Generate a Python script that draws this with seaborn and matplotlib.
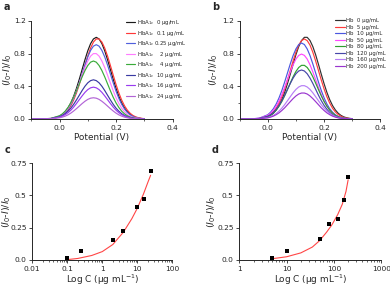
import matplotlib
matplotlib.use("Agg")
import matplotlib.pyplot as plt
import seaborn as sns
import pandas as pd
from matplotlib.ticker import MultipleLocator, FixedLocator, NullFormatter

sns.set_style("ticks")
plt.rcParams['font.family'] = ['DejaVu Sans']
plt.rcParams['mathtext.fontset'] = 'dejavusans'

# ---------------- data ----------------
potential = [-0.10, -0.06, -0.03, 0.00, 0.01, 0.02, 0.03, 0.04, 0.05, 0.06, 0.07, 0.08, 0.09,
             0.10, 0.11, 0.12, 0.13, 0.14, 0.15, 0.16, 0.17, 0.18, 0.19, 0.20, 0.21, 0.22,
             0.23, 0.24, 0.25, 0.26, 0.27, 0.28, 0.29, 0.30]

labels_a = [r"HbA$_{1c}$  0 μg/mL", r"HbA$_{1c}$  0.1 μg/mL", r"HbA$_{1c}$ 0.25 μg/mL",
            r"HbA$_{1c}$    2 μg/mL", r"HbA$_{1c}$    4 μg/mL", r"HbA$_{1c}$  10 μg/mL",
            r"HbA$_{1c}$  16 μg/mL", r"HbA$_{1c}$  24 μg/mL"]
colors_a = ['#1a1a1a', '#ff3838', '#5060dd', '#ff7cff', '#3aab3a', '#3a3aa2', '#9a3cf0', '#b264d6']

a_0 = [0.000, 0.001, 0.006, 0.034, 0.056, 0.089, 0.135, 0.198, 0.278, 0.375, 0.487, 0.607, 0.726, 0.835, 0.923, 0.980, 1.000,
       0.980, 0.923, 0.835, 0.726, 0.607, 0.487, 0.375, 0.278, 0.198, 0.135, 0.089, 0.056, 0.034, 0.020, 0.011, 0.006, 0.003]
a_01 = [0.000, 0.000, 0.004, 0.026, 0.043, 0.070, 0.109, 0.162, 0.232, 0.320, 0.423, 0.538, 0.657, 0.771, 0.869, 0.942, 0.980,
        0.980, 0.942, 0.869, 0.771, 0.657, 0.538, 0.423, 0.320, 0.232, 0.162, 0.109, 0.070, 0.043, 0.026, 0.015, 0.008, 0.004]
a_025 = [0.000, 0.001, 0.005, 0.031, 0.051, 0.081, 0.123, 0.180, 0.253, 0.341, 0.443, 0.552, 0.661, 0.760, 0.840, 0.892, 0.910,
         0.892, 0.840, 0.760, 0.661, 0.552, 0.443, 0.341, 0.253, 0.180, 0.123, 0.081, 0.051, 0.031, 0.018, 0.010, 0.005, 0.003]
a_2 = [0.000, 0.001, 0.007, 0.035, 0.057, 0.089, 0.132, 0.190, 0.261, 0.346, 0.440, 0.537, 0.630, 0.710, 0.770, 0.801, 0.801,
       0.770, 0.710, 0.630, 0.537, 0.440, 0.346, 0.261, 0.190, 0.132, 0.089, 0.057, 0.035, 0.021, 0.012, 0.007, 0.003, 0.002]
a_4 = [0.000, 0.001, 0.008, 0.040, 0.063, 0.096, 0.141, 0.197, 0.266, 0.346, 0.431, 0.516, 0.593, 0.655, 0.696, 0.710,
       0.696, 0.655, 0.593, 0.516, 0.431, 0.346, 0.266, 0.197, 0.141, 0.096, 0.063, 0.040, 0.024, 0.014, 0.008, 0.004, 0.002, 0.001]
a_10 = [0.000, 0.001, 0.005, 0.027, 0.043, 0.065, 0.095, 0.133, 0.180, 0.234, 0.291, 0.349, 0.401, 0.443, 0.470, 0.480,
        0.470, 0.443, 0.401, 0.349, 0.291, 0.234, 0.180, 0.133, 0.095, 0.065, 0.043, 0.027, 0.016, 0.010, 0.005, 0.003, 0.001, 0.001]
a_16 = [0.000, 0.001, 0.004, 0.022, 0.035, 0.053, 0.077, 0.108, 0.146, 0.190, 0.237, 0.283, 0.326, 0.360, 0.382, 0.390,
        0.382, 0.360, 0.326, 0.283, 0.237, 0.190, 0.146, 0.108, 0.077, 0.053, 0.035, 0.022, 0.013, 0.008, 0.004, 0.002, 0.001, 0.001]
a_24 = [0.000, 0.000, 0.003, 0.015, 0.023, 0.035, 0.051, 0.072, 0.098, 0.127, 0.158, 0.189, 0.217, 0.240, 0.255, 0.260,
        0.255, 0.240, 0.217, 0.189, 0.158, 0.127, 0.098, 0.072, 0.051, 0.035, 0.023, 0.015, 0.009, 0.005, 0.003, 0.002, 0.001, 0.000]
series_a = [a_0, a_01, a_025, a_2, a_4, a_10, a_16, a_24]

labels_b = ["Hb  0 μg/mL", "Hb  5 μg/mL", "Hb  10 μg/mL", "Hb  50 μg/mL",
            "Hb  80 μg/mL", "Hb  120 μg/mL", "Hb  160 μg/mL", "Hb  200 μg/mL"]
colors_b = ['#303030', '#ff3b3b', '#4b57e0', '#ff48ff', '#2f9f2f', '#4646a8', '#b67ef6', '#9a35cf']

b_0 = [0.000, 0.001, 0.004, 0.026, 0.044, 0.071, 0.111, 0.165, 0.237, 0.326, 0.432, 0.549, 0.670, 0.787, 0.887, 0.961, 1.000,
       1.000, 0.961, 0.887, 0.787, 0.670, 0.549, 0.432, 0.326, 0.237, 0.165, 0.111, 0.071, 0.044, 0.026, 0.015, 0.008, 0.004]
b_5 = [0.000, 0.001, 0.006, 0.033, 0.055, 0.087, 0.132, 0.194, 0.272, 0.368, 0.477, 0.594, 0.711, 0.818, 0.905, 0.960, 0.980,
       0.960, 0.905, 0.818, 0.711, 0.594, 0.477, 0.368, 0.272, 0.194, 0.132, 0.087, 0.055, 0.033, 0.019, 0.011, 0.006, 0.003]
b_10 = [0.000, 0.001, 0.010, 0.052, 0.083, 0.126, 0.184, 0.259, 0.349, 0.453, 0.564, 0.675, 0.777, 0.858, 0.912, 0.930,
        0.912, 0.858, 0.777, 0.675, 0.564, 0.453, 0.349, 0.259, 0.184, 0.126, 0.083, 0.052, 0.032, 0.018, 0.010, 0.006, 0.003, 0.001]
b_50 = [0.000, 0.001, 0.009, 0.045, 0.071, 0.108, 0.157, 0.221, 0.298, 0.387, 0.482, 0.577, 0.664, 0.734, 0.779, 0.795,
        0.779, 0.734, 0.664, 0.577, 0.482, 0.387, 0.298, 0.221, 0.157, 0.108, 0.071, 0.045, 0.027, 0.016, 0.009, 0.005, 0.002, 0.001]
b_80 = [0.000, 0.001, 0.005, 0.029, 0.047, 0.073, 0.109, 0.156, 0.214, 0.284, 0.360, 0.440, 0.517, 0.582, 0.631, 0.657, 0.657,
        0.631, 0.582, 0.517, 0.440, 0.360, 0.284, 0.214, 0.156, 0.109, 0.073, 0.047, 0.029, 0.017, 0.010, 0.005, 0.003, 0.001]
b_120 = [0.000, 0.001, 0.007, 0.034, 0.053, 0.081, 0.119, 0.167, 0.225, 0.292, 0.364, 0.436, 0.501, 0.554, 0.588, 0.600,
         0.588, 0.554, 0.501, 0.436, 0.364, 0.292, 0.225, 0.167, 0.119, 0.081, 0.053, 0.034, 0.020, 0.012, 0.007, 0.004, 0.002, 0.001]
b_160 = [0.000, 0.000, 0.003, 0.018, 0.029, 0.045, 0.067, 0.097, 0.133, 0.176, 0.224, 0.273, 0.321, 0.362, 0.392, 0.408, 0.408,
         0.392, 0.362, 0.321, 0.273, 0.224, 0.176, 0.133, 0.097, 0.067, 0.045, 0.029, 0.018, 0.011, 0.006, 0.003, 0.002, 0.001]
b_200 = [0.000, 0.000, 0.003, 0.014, 0.023, 0.035, 0.053, 0.075, 0.104, 0.137, 0.175, 0.213, 0.250, 0.282, 0.306, 0.318, 0.318,
         0.306, 0.282, 0.250, 0.213, 0.175, 0.137, 0.104, 0.075, 0.053, 0.035, 0.023, 0.014, 0.008, 0.005, 0.003, 0.001, 0.001]
series_b = [b_0, b_5, b_10, b_50, b_80, b_120, b_160, b_200]

# calibration c (HbA1c)
conc_c = [0.1, 0.25, 2, 4, 10, 16, 24]
resp_c = [0.012, 0.067, 0.157, 0.225, 0.410, 0.475, 0.685]
fit_c_x = [0.1, 0.2, 0.5, 1, 2, 4, 7, 10, 15, 20, 24]
fit_c_y = [0.003, 0.012, 0.035, 0.065, 0.120, 0.215, 0.320, 0.400, 0.510, 0.600, 0.655]
xticks_c = [0.01, 0.1, 1, 10, 100]
xticklabels_c = ["0.01", "0.1", "1", "10", "100"]

# calibration d (Hb)
conc_d = [5, 10, 50, 80, 120, 160, 200]
resp_d = [0.015, 0.066, 0.165, 0.277, 0.318, 0.467, 0.645]
fit_d_x = [5, 10, 20, 35, 50, 70, 90, 120, 150, 180, 200]
fit_d_y = [0.010, 0.025, 0.055, 0.100, 0.150, 0.215, 0.270, 0.350, 0.430, 0.530, 0.620]
xticks_d = [1, 10, 100, 1000]
xticklabels_d = ["1", "10", "100", "1000"]

yticks_cal = [0.0, 0.25, 0.5, 0.75]
yticklabels_cal = ["0.0", "0.25", "0.5", "0.75"]

# ---------------- figure ----------------
W, H = 390, 287
fig = plt.figure(figsize=(W / 100, H / 100), dpi=100)

def px_axes(x0, x1, ytop, ybot):
    return fig.add_axes([x0 / W, 1 - ybot / H, (x1 - x0) / W, (ybot - ytop) / H])

ax_a = px_axes(31.3, 172.5, 21, 119)
ax_b = px_axes(239.6, 380.4, 21, 119)
ax_c = px_axes(32.3, 172.3, 163, 260)
ax_d = px_axes(239.3, 381.2, 163, 260)

tick_fs = 5.4
lab_fs = 6.4
ylab = r"($I_0$-$I$)/$I_0$"

def style(ax):
    sns.despine(ax=ax)
    for s in ('left', 'bottom'):
        ax.spines[s].set_linewidth(0.7)
    ax.tick_params(which='major', direction='out', length=2.5, width=0.6, labelsize=tick_fs, pad=1.5)
    ax.tick_params(which='minor', direction='out', length=1.5, width=0.5)

def place_labels(ax, ylab_center_px, xlab_top_px, left_px, width_px, bottom_px, height_px):
    ax.yaxis.set_label_coords((ylab_center_px - left_px) / width_px, 0.5)
    ax.xaxis.set_label_coords(0.5, (bottom_px - xlab_top_px) / height_px)

def curves(ax, series, labels, colors, legx):
    rows = []
    for lab, ys in zip(labels, series):
        for xv, yv in zip(potential, ys):
            rows.append((xv, yv, lab))
    df = pd.DataFrame(rows, columns=["V", "y", "label"])
    sns.lineplot(data=df, x="V", y="y", hue="label", hue_order=labels,
                 palette=colors, ax=ax, lw=0.85, sort=False)
    ax.set_xlim(-0.1, 0.4)
    ax.set_ylim(0, 1.2)
    ax.xaxis.set_major_locator(FixedLocator([0.0, 0.2, 0.4]))
    ax.xaxis.set_minor_locator(MultipleLocator(0.1))
    ax.yaxis.set_major_locator(FixedLocator([0.0, 0.4, 0.8, 1.2]))
    ax.yaxis.set_minor_locator(MultipleLocator(0.2))
    ax.set_xticklabels(["0.0", "0.2", "0.4"])
    ax.set_yticklabels(["0.0", "0.4", "0.8", "1.2"])
    ax.set_xlabel("Potential (V)", fontsize=lab_fs, va='top')
    ax.set_ylabel(ylab, fontsize=lab_fs + 0.4, va='center')
    style(ax)
    ax.legend(loc='upper left', bbox_to_anchor=(legx, 1.03), frameon=False,
              fontsize=3.9, handlelength=1.7, handletextpad=0.35, labelspacing=0.28,
              borderpad=0, borderaxespad=0)

curves(ax_a, series_a, labels_a, colors_a, 0.67)
curves(ax_b, series_b, labels_b, colors_b, 0.68)
place_labels(ax_a, 8, 133, 31.3, 141.2, 119, 98)
place_labels(ax_b, 213.5, 133, 239.6, 140.8, 119, 98)

def calib(ax, cx, cy, fx, fy, xt, xtl, xlim):
    dfp = pd.DataFrame({"C": cx, "r": cy})
    dff = pd.DataFrame({"C": fx, "r": fy})
    sns.lineplot(data=dff, x="C", y="r", ax=ax, color='#ff4646', lw=0.8, sort=False)
    sns.scatterplot(data=dfp, x="C", y="r", ax=ax, marker='s', color='black', s=9,
                    linewidth=0, zorder=3)
    ax.set_xscale('log')
    ax.set_xlim(*xlim)
    ax.set_ylim(0, 0.75)
    ax.xaxis.set_major_locator(FixedLocator(xt))
    ax.set_xticklabels(xtl)
    ax.xaxis.set_minor_formatter(NullFormatter())
    ax.yaxis.set_major_locator(FixedLocator(yticks_cal))
    ax.set_yticklabels(yticklabels_cal)
    ax.set_xlabel(r"Log C (μg mL$^{-1}$)", fontsize=lab_fs, va='top')
    ax.set_ylabel(ylab, fontsize=lab_fs + 0.4, va='center')
    style(ax)

calib(ax_c, conc_c, resp_c, fit_c_x, fit_c_y, xticks_c, xticklabels_c, (0.01, 100))
calib(ax_d, conc_d, resp_d, fit_d_x, fit_d_y, xticks_d, xticklabels_d, (1, 1000))
place_labels(ax_c, 6.5, 272.5, 32.3, 140, 260, 97)
place_labels(ax_d, 212, 272.5, 239.3, 141.9, 260, 97)

for lt, x, y in [("a", 4, 7), ("b", 212, 7), ("c", 5, 150), ("d", 212, 150)]:
    fig.text(x / W, 1 - y / H, lt, fontsize=7, fontweight='bold', va='center', ha='left')

fig.savefig("out.png", dpi=100)
